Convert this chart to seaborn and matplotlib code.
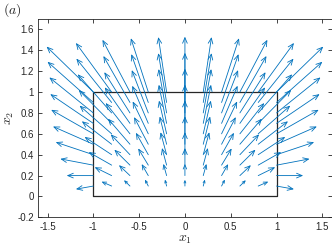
import numpy as np
import seaborn as sns
import matplotlib
matplotlib.use("Agg")
import matplotlib.pyplot as plt

# grid of arrow tails
x_pos = [-1.0, -0.8, -0.6, -0.4, -0.2, 0.0, 0.2, 0.4, 0.6, 0.8, 1.0]
y_pos = [0.1, 0.2, 0.3, 0.4, 0.5, 0.6, 0.7, 0.8, 0.9, 1.0]

# arrow components (one row per y)
u_vals = [
    [-0.19, -0.11, -0.065, -0.036, -0.018, 0, 0.018, 0.036, 0.065, 0.11, 0.19],
    [-0.29, -0.185, -0.12, -0.072, -0.035, 0, 0.035, 0.072, 0.12, 0.185, 0.29],
    [-0.36, -0.25, -0.17, -0.11, -0.05, 0, 0.05, 0.11, 0.17, 0.25, 0.36],
    [-0.41, -0.295, -0.21, -0.135, -0.066, 0, 0.066, 0.135, 0.21, 0.295, 0.41],
    [-0.44, -0.325, -0.24, -0.155, -0.075, 0, 0.075, 0.155, 0.24, 0.325, 0.44],
    [-0.46, -0.35, -0.265, -0.17, -0.083, 0, 0.083, 0.17, 0.265, 0.35, 0.46],
    [-0.47, -0.36, -0.275, -0.175, -0.085, 0, 0.085, 0.175, 0.275, 0.36, 0.47],
    [-0.48, -0.37, -0.28, -0.18, -0.087, 0, 0.087, 0.18, 0.28, 0.37, 0.48],
    [-0.50, -0.385, -0.29, -0.185, -0.09, 0, 0.09, 0.185, 0.29, 0.385, 0.50],
    [-0.51, -0.39, -0.30, -0.19, -0.09, 0, 0.09, 0.19, 0.30, 0.39, 0.51],
]
v_vals = [
    [-0.03, 0.042, 0.056, 0.062, 0.062, 0.06, 0.062, 0.062, 0.056, 0.042, -0.03],
    [0.0, 0.08, 0.10, 0.11, 0.112, 0.112, 0.112, 0.11, 0.10, 0.08, 0.0],
    [0.06, 0.125, 0.148, 0.16, 0.164, 0.164, 0.164, 0.16, 0.148, 0.125, 0.06],
    [0.12, 0.17, 0.195, 0.21, 0.215, 0.216, 0.215, 0.21, 0.195, 0.17, 0.12],
    [0.17, 0.22, 0.245, 0.26, 0.266, 0.268, 0.266, 0.26, 0.245, 0.22, 0.17],
    [0.23, 0.27, 0.295, 0.31, 0.318, 0.32, 0.318, 0.31, 0.295, 0.27, 0.23],
    [0.28, 0.32, 0.345, 0.36, 0.37, 0.372, 0.37, 0.36, 0.345, 0.32, 0.28],
    [0.34, 0.37, 0.39, 0.41, 0.42, 0.424, 0.42, 0.41, 0.39, 0.37, 0.34],
    [0.39, 0.42, 0.445, 0.463, 0.472, 0.476, 0.472, 0.463, 0.445, 0.42, 0.39],
    [0.435, 0.47, 0.50, 0.515, 0.526, 0.53, 0.526, 0.515, 0.50, 0.47, 0.435],
]

# box
rect_x = [-1, 1, 1, -1, -1]
rect_y = [0, 0, 1, 1, 0]

x_ticks = [-1.5, -1, -0.5, 0, 0.5, 1, 1.5]
x_labels = ["-1.5", "-1", "-0.5", "0", "0.5", "1", "1.5"]
y_ticks = [-0.2, 0, 0.2, 0.4, 0.6, 0.8, 1, 1.2, 1.4, 1.6]
y_labels = ["-0.2", "0", "0.2", "0.4", "0.6", "0.8", "1", "1.2", "1.4", "1.6"]

sns.set_style("ticks")
plt.rcParams["font.family"] = ["Liberation Sans", "DejaVu Sans"]
plt.rcParams["mathtext.fontset"] = "cm"
dark = "#262626"
blue = "#0072BD"

fig = plt.figure(figsize=(3.32, 2.49), dpi=100)
ax = fig.add_axes([0.1155, 0.127, 0.883, 0.797])
ax.set_xlim(-1.6, 1.6)
ax.set_ylim(-0.2, 1.7)

# matlab-style open arrowheads, head size grows with arrow length
px_x = 0.883 * 332 / 3.2
px_y = 0.797 * 249 / 1.9
for j, yy in enumerate(y_pos):
    for i, xx in enumerate(x_pos):
        u = u_vals[j][i]
        v = v_vals[j][i]
        L = np.hypot(u * px_x, v * px_y)
        head_px = min(5.5, 0.35 * L)
        ms = head_px / (0.4 * 100 / 72)
        ax.annotate("", xy=(xx + u, yy + v), xytext=(xx, yy),
                    arrowprops=dict(arrowstyle="->,head_length=0.4,head_width=0.17",
                                    color=blue, lw=0.6, shrinkA=0, shrinkB=0,
                                    mutation_scale=ms))

sns.lineplot(x=rect_x, y=rect_y, sort=False, estimator=None, color=dark,
             linewidth=0.9, ax=ax)

ax.set_xticks(x_ticks)
ax.set_xticklabels(x_labels)
ax.set_yticks(y_ticks)
ax.set_yticklabels(y_labels)
ax.tick_params(direction="in", length=3, width=0.6, labelsize=7, colors=dark,
               top=True, right=True, pad=3)
for s in ax.spines.values():
    s.set_visible(True)
    s.set_linewidth(0.6)
    s.set_color(dark)

ax.set_xlabel("$x_1$", fontsize=10, labelpad=0, color=dark)
ax.set_ylabel("$x_2$", fontsize=10, labelpad=1, color=dark)
fig.text(0.01, 0.96, "$(a)$", fontsize=10, color=dark, va="center", ha="left")

fig.savefig("out.png", dpi=100)
